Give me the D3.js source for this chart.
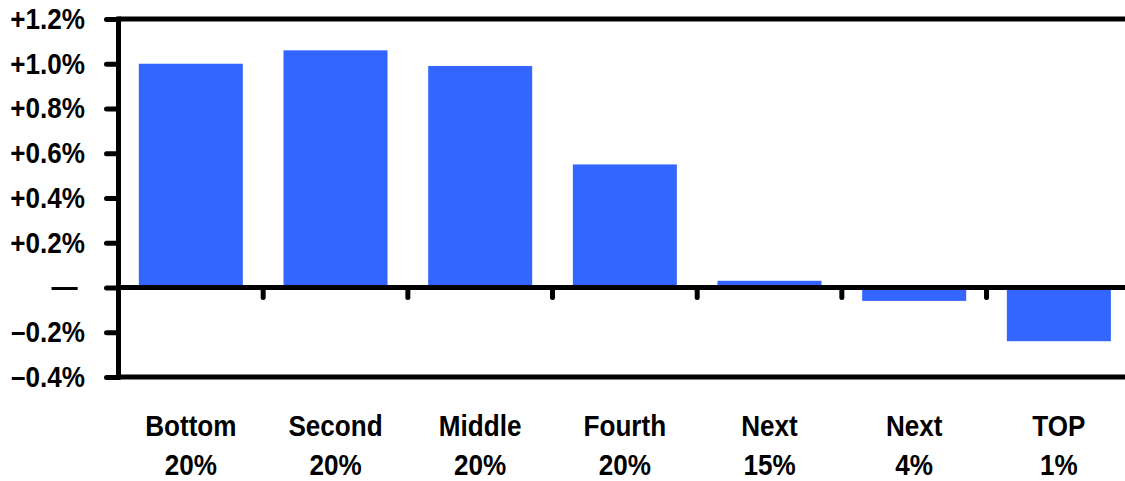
<!DOCTYPE html>
<html>
<head>
<meta charset="utf-8">
<script src="https://cdn.jsdelivr.net/npm/d3@7"></script>
<style>
  html, body { margin: 0; padding: 0; background: #fff; }
  svg { display: block; }
  text { font-family: "Liberation Sans Narrow", "Arial Narrow", "Liberation Sans", sans-serif; font-weight: bold; fill: #000; }
</style>
</head>
<body>
<svg id="chart" width="1125" height="481"></svg>
<script>
// ---- data ----
const categoriesLine1 = ["Bottom", "Second", "Middle", "Fourth", "Next", "Next", "TOP"];
const categoriesLine2 = ["20%", "20%", "20%", "20%", "15%", "4%", "1%"];
const values = [1.00, 1.06, 0.99, 0.55, 0.03, -0.06, -0.24];
const yTicks = [-0.4, -0.2, 0, 0.2, 0.4, 0.6, 0.8, 1.0, 1.2];

// ---- layout ----
const plotLeft = 118.5, plotTop = 19, plotBottom = 377;
const stepW = 144.67;
const plotRight = plotLeft + stepW * categoriesLine1.length;
const sx = 0.9; // horizontal condensing of the bold sans font

const svg = d3.select("#chart");
const ids = categoriesLine1.map((d, i) => i);

const x = d3.scaleBand().domain(ids).range([plotLeft, plotRight])
  .paddingInner(0.281).paddingOuter(0.1405);
const y = d3.scaleLinear().domain([-0.4, 1.2]).range([plotBottom, plotTop]);

const fmt = v => {
  if (Math.abs(v) < 1e-9) return "\u2014";
  const s = Math.abs(v).toFixed(1) + "%";
  return v > 0 ? "+" + s : "\u2013" + s;
};

// bars
svg.append("g").selectAll("rect").data(values).join("rect")
  .attr("x", (d, i) => x(i))
  .attr("width", x.bandwidth())
  .attr("y", d => y(Math.max(0, d)))
  .attr("height", d => Math.abs(y(d) - y(0)))
  .attr("fill", "#3366ff");

// y axis ticks + labels
const yAxis = d3.axisLeft(y).tickValues(yTicks).tickSize(12).tickPadding(21).tickFormat(fmt);
const gy = svg.append("g").attr("transform", `translate(${plotLeft},0)`).call(yAxis);
gy.select(".domain").remove();
gy.attr("font-family", null).attr("font-size", null);
gy.selectAll(".tick line").attr("stroke", "#000").attr("stroke-width", 5).attr("stroke-linecap", "round");
gy.selectAll(".tick text")
  .attr("font-size", 29).attr("fill", "#000")
  .attr("x", d => (Math.abs(d) < 1e-9 ? -41 : -33.5) / sx)
  .attr("transform", `scale(${sx},1)`);

// horizontal frame lines at top, zero, bottom
svg.append("g").selectAll("line").data([1.2, 0, -0.4]).join("line")
  .attr("x1", plotLeft).attr("x2", plotRight)
  .attr("y1", d => y(d)).attr("y2", d => y(d))
  .attr("stroke", "#000").attr("stroke-width", 5);

// left axis line
svg.append("line")
  .attr("x1", plotLeft).attr("x2", plotLeft)
  .attr("y1", y(1.2) - 2.5).attr("y2", y(-0.4) + 2.5)
  .attr("stroke", "#000").attr("stroke-width", 5);

// category boundary ticks on zero line
const half = x.step() * x.paddingInner() / 2;
svg.append("g").selectAll("line").data(ids.slice(1)).join("line")
  .attr("x1", i => x(i) - half).attr("x2", i => x(i) - half)
  .attr("y1", y(0)).attr("y2", y(0) + 10)
  .attr("stroke", "#000").attr("stroke-width", 5).attr("stroke-linecap", "round");

// category labels
const gl = svg.append("g").selectAll("g").data(ids).join("g")
  .attr("transform", i => `translate(${x(i) + x.bandwidth() / 2},0)`)
  .append("text")
  .attr("text-anchor", "middle")
  .attr("font-size", 29)
  .attr("transform", `scale(${sx},1)`);
gl.append("tspan").attr("x", 0).attr("y", 436).text(i => categoriesLine1[i]);
gl.append("tspan").attr("x", 0).attr("y", 475).text(i => categoriesLine2[i]);
</script>
</body>
</html>
